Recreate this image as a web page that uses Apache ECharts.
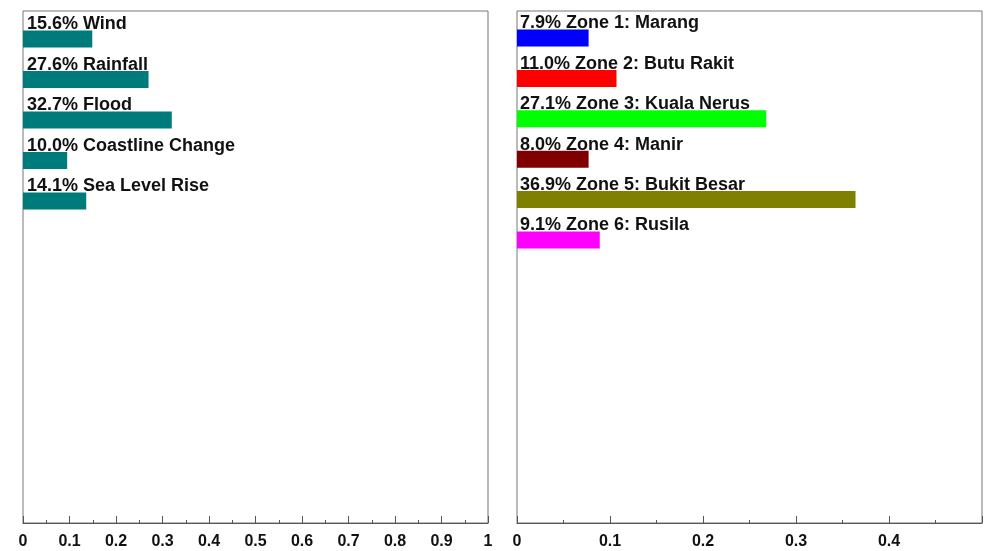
<!DOCTYPE html>
<html>
<head>
<meta charset="utf-8">
<script src="https://cdn.jsdelivr.net/npm/echarts@6/dist/echarts.min.js"></script>
<style>html,body{margin:0;padding:0;background:#fff;}#c{width:989px;height:551px;}</style>
</head>
<body>
<div id="c"></div>
<script>
// Left panel: hazard factors
const leftCats = ['Wind', 'Rainfall', 'Flood', 'Coastline Change', 'Sea Level Rise'];
const leftPct = ['15.6%', '27.6%', '32.7%', '10.0%', '14.1%'];
const leftVals = [0.149, 0.270, 0.320, 0.095, 0.136];
const leftColor = '#007b7b';
const leftMax = 1;

// Right panel: zones
const rightCats = ['Zone 1: Marang', 'Zone 2: Butu Rakit', 'Zone 3: Kuala Nerus', 'Zone 4: Manir', 'Zone 5: Bukit Besar', 'Zone 6: Rusila'];
const rightPct = ['7.9%', '11.0%', '27.1%', '8.0%', '36.9%', '9.1%'];
const rightVals = [0.077, 0.107, 0.268, 0.077, 0.364, 0.089];
const rightColors = ['#0000ff', '#ff0000', '#00ff00', '#800000', '#808000', '#ff00ff'];
const rightMax = 0.5;

const tickInterval = 0.1;

const chart = echarts.init(document.getElementById('c'));
const font = '"Liberation Sans", Arial, sans-serif';

function frameAxis(gridIndex, max, showMax) {
  return {
    type: 'value', gridIndex: gridIndex, min: 0, max: max, interval: tickInterval,
    axisLine: { show: true, lineStyle: { color: '#555', width: 1 } },
    axisTick: { show: true, inside: true, length: 7, lineStyle: { color: '#555' } },
    minorTick: { show: true, splitNumber: 2, length: 3, lineStyle: { color: '#555' } },
    splitLine: { show: false },
    axisLabel: { show: true, showMaxLabel: showMax, showMinLabel: true, margin: 11,
      color: '#111', fontSize: 16, fontWeight: 'bold', fontFamily: font }
  };
}
function barXAxis(gridIndex, max) {
  return { type: 'value', gridIndex: gridIndex, min: 0, max: max, show: false, splitLine: { show: false } };
}
function barYAxis(gridIndex, cats) {
  return { type: 'category', gridIndex: gridIndex, data: cats, inverse: true, show: false };
}
function labelFn(pcts, cats) {
  return p => pcts[p.dataIndex] + ' ' + cats[p.dataIndex];
}

const option = {
  backgroundColor: '#fff',
  animation: false,
  grid: [
    { left: 23, right: 501, top: 11, bottom: 28, show: true, borderColor: '#777', borderWidth: 1 },
    { left: 517, right: 7, top: 11, bottom: 28, show: true, borderColor: '#777', borderWidth: 1 },
    { left: 23, right: 501, top: 18.75, height: 202.5 },
    { left: 517, right: 7, top: 17.8, height: 242.4 }
  ],
  xAxis: [
    frameAxis(0, leftMax, true),
    frameAxis(1, rightMax, false),
    barXAxis(2, leftMax),
    barXAxis(3, rightMax)
  ],
  yAxis: [
    { type: 'value', gridIndex: 0, show: false, splitLine: { show: false } },
    { type: 'value', gridIndex: 1, show: false, splitLine: { show: false } },
    barYAxis(2, leftCats),
    barYAxis(3, rightCats)
  ],
  series: [
    {
      type: 'bar', xAxisIndex: 2, yAxisIndex: 2, barWidth: 17,
      data: leftVals, itemStyle: { color: leftColor },
      label: { show: true, position: [4, 3], align: 'left', verticalAlign: 'bottom',
        formatter: labelFn(leftPct, leftCats), color: '#111', fontSize: 18, fontWeight: 'bold', fontFamily: font }
    },
    {
      type: 'bar', xAxisIndex: 3, yAxisIndex: 3, barWidth: 17,
      data: rightVals.map((v, i) => ({ value: v, itemStyle: { color: rightColors[i] } })),
      label: { show: true, position: [3, 3], align: 'left', verticalAlign: 'bottom',
        formatter: labelFn(rightPct, rightCats), color: '#111', fontSize: 18, fontWeight: 'bold', fontFamily: font }
    }
  ]
};
chart.setOption(option);
</script>
</body>
</html>
